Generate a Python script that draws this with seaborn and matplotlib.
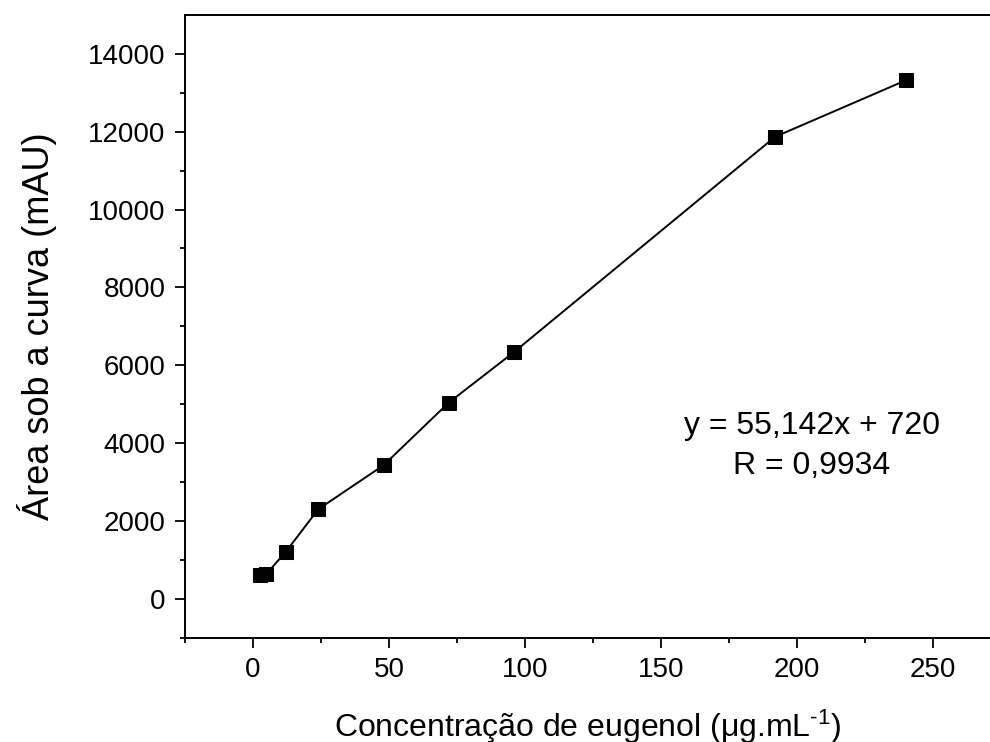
import numpy as np
import pandas as pd
import matplotlib
matplotlib.use("Agg")
import matplotlib.pyplot as plt
import seaborn as sns

# concentration (ug/mL) and peak area (mAU)
conc = [2.4, 4.8, 12, 24, 48, 72, 96, 192, 240]
area = [610, 630, 1200, 2300, 3430, 5040, 6340, 11870, 13320]
eq_text = "y = 55,142x + 720"
r_text = "R = 0,9934"

df = pd.DataFrame({"conc": conc, "area": area})

sns.set_style("ticks")
plt.rcParams["font.family"] = ["Liberation Sans", "DejaVu Sans"]
plt.rcParams["mathtext.default"] = "regular"
for key in ["text.color", "axes.labelcolor", "xtick.color", "ytick.color", "axes.edgecolor"]:
    plt.rcParams[key] = "black"

fig = plt.figure(figsize=(9.9, 7.42), dpi=100)
ax = fig.add_axes([185 / 990, 0.1406, 805 / 990, 0.8392])

sns.lineplot(data=df, x="conc", y="area", ax=ax, color="black", linewidth=1.4,
             marker="s", markersize=10, markeredgecolor="black", markerfacecolor="black")

ax.set_xlim(-25, 271)
ax.set_ylim(-1000, 15000)
ax.set_xticks([0, 50, 100, 150, 200, 250])
ax.set_xticks([-25, 25, 75, 125, 175, 225], minor=True)
ax.set_yticks(np.arange(0, 14001, 2000))
ax.set_yticks(np.arange(-1000, 15000, 2000), minor=True)

ax.tick_params(which="major", direction="out", length=7, width=1.3, labelsize=20, pad=7)
ax.tick_params(which="minor", direction="out", length=3.5, width=1.3)
ax.tick_params(axis="x", top=False)

for side in ["left", "bottom", "top"]:
    ax.spines[side].set_linewidth(1.4)
ax.spines["right"].set_visible(False)

ax.set_xlabel("Concentração de eugenol (μg.mL$^{‐1}$)", fontsize=23, labelpad=18)
ax.set_ylabel("Área sob a curva (mAU)", fontsize=26, labelpad=22)

ax.text(0.779, 0.308, eq_text + "\n" + r_text, transform=ax.transAxes,
        ha="center", va="center", fontsize=23, linespacing=1.45)

fig.savefig("out.png", dpi=100)
